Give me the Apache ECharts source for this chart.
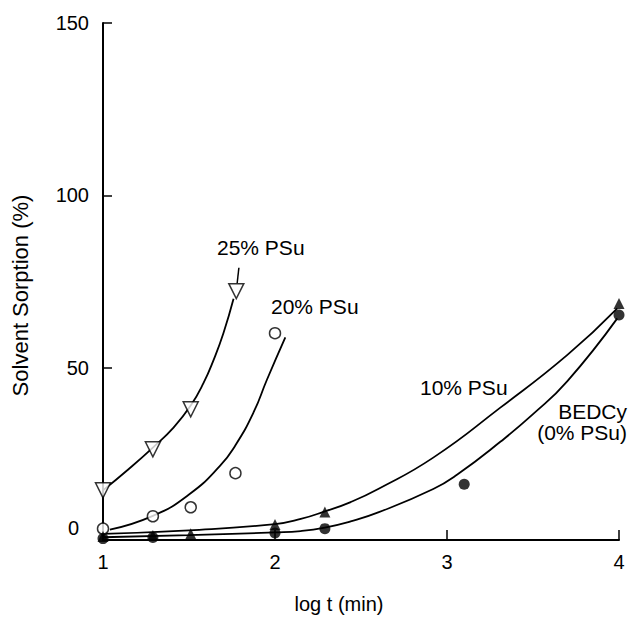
<!DOCTYPE html>
<html>
<head>
<meta charset="utf-8">
<script src="https://cdn.jsdelivr.net/npm/echarts@6/dist/echarts.min.js"></script>
<style>
  html, body { margin: 0; padding: 0; background: #fff; }
  #chart { width: 633px; height: 619px; }
</style>
</head>
<body>
<div id="chart"></div>
<script>
var FONT = '"Liberation Sans", Arial, Helvetica, sans-serif';
var INK = '#000';

// axis ranges
var xMin = 1, xMax = 4, xStep = 1;
var yMin = 0, yMax = 150, yStep = 50;

// measured points (log t, sorption %)
var psu25 = [[1.0, 14.4], [1.29, 26.3], [1.51, 37.9], [1.775, 72.2]];
var psu20 = [[1.0, 3.3], [1.29, 6.9], [1.51, 9.5], [1.77, 19.4], [2.0, 60]];
var psu10 = [[1.0, 1.0], [1.29, 1.3], [1.51, 1.8], [2.0, 4.5], [2.29, 8.1], [4.0, 68.6]];
var bedcy = [[1.0, 0.4], [1.29, 0.7], [2.0, 2.0], [2.29, 3.3], [3.1, 16.2], [4.0, 65.3]];

// hand-drawn fitted curves
var psu25Fit = [[1.0, 14.4], [1.15, 20.6], [1.29, 26.8], [1.41, 32.6], [1.51, 39], [1.584, 45.5], [1.645, 52.5], [1.70, 60], [1.759, 70]];
var psu20Fit = [[1.04, 3], [1.29, 7], [1.5, 13.2], [1.68, 21.5], [1.77, 27.5], [1.875, 37], [1.953, 46.5], [2.06, 58.8]];
var psu10Fit = [[1.0, 1.8], [1.5, 2.8], [2.0, 4.6], [2.15, 6.1], [2.29, 8.3], [2.44, 11], [2.6, 14.8], [2.92, 23.9], [3.31, 38.4], [3.7, 53.7], [3.99, 67.2]];
var bedcyFit = [[1.0, 0.8], [1.5, 1.4], [2.0, 2.2], [2.15, 2.6], [2.29, 3.6], [2.44, 5.4], [2.6, 8.0], [2.92, 14.8], [3.06, 19.0], [3.31, 28.5], [3.5, 36.5], [3.7, 46.1], [3.99, 64.3]];

// leader from the "25% PSu" label to its last point
var arrow25 = [[1.79, 79], [1.78, 74.5]];

function fitLine(data) {
  return {
    type: 'line', data: data, smooth: 0.5,
    showSymbol: false, silent: true,
    lineStyle: { color: INK, width: 1.8 }, z: 2
  };
}

function marks(data, symbol, size, filled, rotate) {
  return {
    type: 'scatter', data: data, symbol: symbol, symbolSize: size,
    symbolRotate: rotate || 0,
    itemStyle: filled
      ? { color: INK }
      : { color: '#fff', borderColor: INK, borderWidth: 1.5 },
    z: 5
  };
}

var chart = echarts.init(document.getElementById('chart'), null, { renderer: 'svg' });
chart.setOption({
  animation: false,
  backgroundColor: '#fff',
  textStyle: { fontFamily: FONT, color: INK },
  grid: { left: 103, right: 14, top: 23, bottom: 76 },
  xAxis: {
    type: 'value', min: xMin, max: xMax, interval: xStep,
    name: 'log t (min)', nameLocation: 'middle', nameGap: 54,
    nameTextStyle: { fontSize: 20, color: INK, fontFamily: FONT, padding: [0, 44, 0, 0] },
    axisLine: { lineStyle: { color: INK, width: 2 } },
    axisTick: { inside: true, length: 10, lineStyle: { color: INK, width: 1.5 } },
    axisLabel: { fontSize: 20, color: INK, margin: 12, fontFamily: FONT },
    splitLine: { show: false }
  },
  yAxis: {
    type: 'value', min: yMin, max: yMax, interval: yStep,
    name: 'Solvent Sorption (%)', nameLocation: 'middle', nameGap: 72,
    nameTextStyle: { fontSize: 22, color: INK, fontFamily: FONT, padding: [0, 28, 0, 0] },
    axisLine: { lineStyle: { color: INK, width: 2 } },
    axisTick: { inside: true, length: 9, lineStyle: { color: INK, width: 1.5 } },
    axisLabel: {
      fontSize: 20, color: INK, margin: 14, fontFamily: FONT,
      formatter: function (v) { return v === 0 ? '{z|0}' : String(v); },
      rich: { z: { fontSize: 20, fontFamily: FONT, color: INK, padding: [0, 10, 24, 0] } }
    },
    splitLine: { show: false }
  },
  graphic: [
    { type: 'text', left: 217, top: 237, style: { text: '25% PSu', font: '21px ' + FONT, fill: INK } },
    { type: 'text', left: 271, top: 296, style: { text: '20% PSu', font: '21px ' + FONT, fill: INK } },
    { type: 'text', left: 420, top: 377, style: { text: '10% PSu', font: '21px ' + FONT, fill: INK } },
    { type: 'text', right: 6, top: 401, style: { text: 'BEDCy', font: '21px ' + FONT, fill: INK, align: 'right' } },
    { type: 'text', right: 6, top: 422, style: { text: '(0% PSu)', font: '21px ' + FONT, fill: INK, align: 'right' } }
  ],
  series: [
    fitLine(psu25Fit),
    fitLine(psu20Fit),
    fitLine(psu10Fit),
    fitLine(bedcyFit),
    {
      type: 'line', data: arrow25, showSymbol: false, silent: true,
      lineStyle: { color: INK, width: 1.5 }, z: 2
    },
    marks(psu25, 'triangle', 15, false, 180),
    marks(psu20, 'circle', 11, false),
    marks(bedcy, 'circle', 11, true),
    marks(psu10, 'triangle', 11, true)
  ]
});
</script>
</body>
</html>
